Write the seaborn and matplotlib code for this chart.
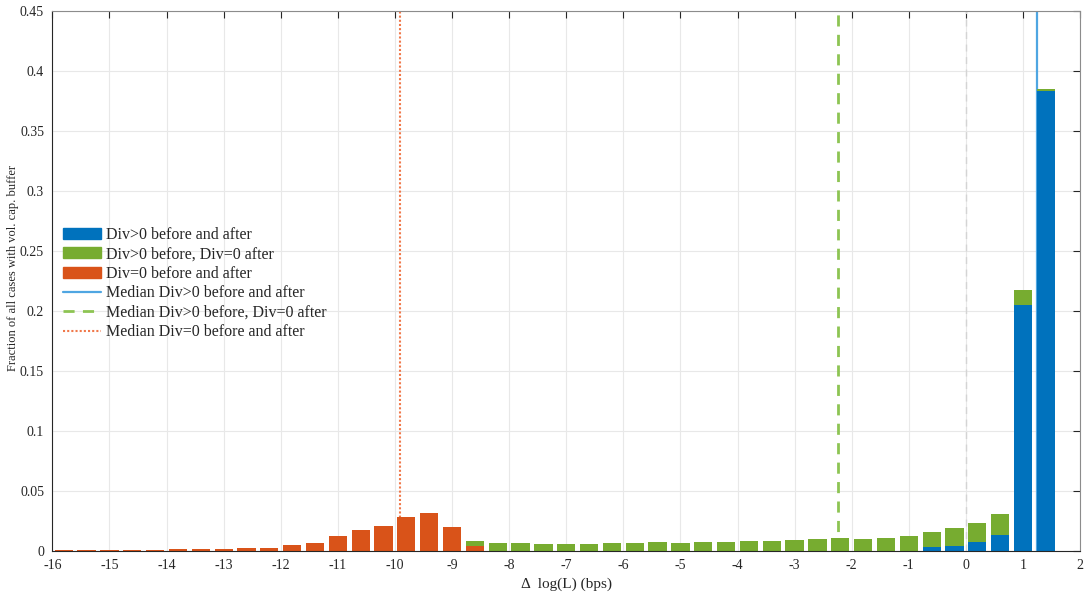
import numpy as np
import seaborn as sns
import matplotlib
matplotlib.use("Agg")
import matplotlib.pyplot as plt
from matplotlib.patches import Patch
from matplotlib.lines import Line2D
from matplotlib.ticker import FormatStrFormatter, MultipleLocator

# =============================
# Data
# =============================
bin_centers = [-15.8, -15.4, -15.0, -14.6, -14.2, -13.8, -13.4, -13.0, -12.6, -12.2,
               -11.8, -11.4, -11.0, -10.6, -10.2, -9.8, -9.4, -9.0, -8.6, -8.2,
               -7.8, -7.4, -7.0, -6.6, -6.2, -5.8, -5.4, -5.0, -4.6, -4.2,
               -3.8, -3.4, -3.0, -2.6, -2.2, -1.8, -1.4, -1.0, -0.6, -0.2,
               0.2, 0.6, 1.0, 1.4]

# Div=0 before and after
div_zero_both = [0.0007, 0.0007, 0.0007, 0.0007, 0.0007, 0.0017, 0.0017, 0.0017, 0.0025, 0.0025,
                 0.0050, 0.0067, 0.0120, 0.0170, 0.0208, 0.0280, 0.0317, 0.0200, 0.0036, 0,
                 0, 0, 0, 0, 0, 0, 0, 0, 0, 0,
                 0, 0, 0, 0, 0, 0, 0, 0, 0, 0,
                 0, 0, 0, 0]

# Div>0 before, Div=0 after (stacked segment)
div_pos_to_zero = [0, 0, 0, 0, 0, 0, 0, 0, 0, 0,
                   0, 0, 0, 0, 0, 0, 0, 0, 0.0044, 0.0061,
                   0.0061, 0.0058, 0.0060, 0.0058, 0.0067, 0.0067, 0.0072, 0.0067, 0.0072, 0.0072,
                   0.0080, 0.0083, 0.0086, 0.0097, 0.0108, 0.0100, 0.0108, 0.0120, 0.0123, 0.0142,
                   0.0156, 0.0180, 0.0125, 0.0020]

# Div>0 before and after
div_pos_both = [0, 0, 0, 0, 0, 0, 0, 0, 0, 0,
                0, 0, 0, 0, 0, 0, 0, 0, 0, 0,
                0, 0, 0, 0, 0, 0, 0, 0, 0, 0,
                0, 0, 0, 0, 0, 0, 0, 0, 0.0033, 0.0044,
                0.0072, 0.0130, 0.2050, 0.3830]

median_pos_both = 1.24
median_pos_to_zero = -2.24
median_zero_both = -9.92

labels = ["Div>0 before and after", "Div>0 before, Div=0 after", "Div=0 before and after",
          "Median Div>0 before and after", "Median Div>0 before, Div=0 after",
          "Median Div=0 before and after"]

# =============================
# Style
# =============================
sns.set_theme(style="white")
plt.rcParams["font.family"] = ["Liberation Serif", "DejaVu Serif"]
plt.rcParams["axes.unicode_minus"] = False

BLUE = "#0072BD"
GREEN = "#77AC30"
ORANGE = "#D95319"
TXT = "#262626"

fig = plt.figure(figsize=(10.91, 6.0), dpi=100)
ax = fig.add_axes([0.048, 0.082, 0.942, 0.9])

totals = np.array(div_pos_both) + np.array(div_zero_both) + np.array(div_pos_to_zero)

# median lines behind bars
ax.axvline(median_pos_both, color="#4FA6E2", lw=1.6, zorder=1)
ax.axvline(median_pos_to_zero, color="#8DC453", lw=2.0, ls=(0, (4, 3)), zorder=1)
ax.axvline(median_zero_both, color="#F0784A", lw=1.5, ls=(0, (1, 1)), zorder=1)
ax.axvline(0, color="#d4d4d4", lw=1.0, ls=(0, (5, 4)), zorder=1)

common = dict(native_scale=True, errorbar=None, saturation=1, linewidth=0, ax=ax, zorder=2)
sns.barplot(x=bin_centers, y=totals, color=GREEN, **common)
sns.barplot(x=bin_centers, y=div_zero_both, color=ORANGE, **common)
sns.barplot(x=bin_centers, y=div_pos_both, color=BLUE, **common)

# =============================
# Axes
# =============================
ax.set_xlim(-16, 2)
ax.set_ylim(0, 0.45)
ax.xaxis.set_major_locator(MultipleLocator(1))
ax.yaxis.set_major_locator(MultipleLocator(0.05))
ax.xaxis.set_major_formatter(FormatStrFormatter("%g"))
ax.yaxis.set_major_formatter(FormatStrFormatter("%g"))
ax.grid(True, color="#e8e8e8", lw=0.8)
ax.set_axisbelow(True)
ax.tick_params(direction="in", top=True, right=True, length=5, width=0.8,
               colors=TXT, labelsize=10, pad=6)
for side, sp in ax.spines.items():
    sp.set_color(TXT if side in ("left", "bottom") else "#8c8c8c")
    sp.set_linewidth(0.8)

ax.set_xlabel("\u0394  log(L) (bps)", fontsize=11, color=TXT, labelpad=4)
ax.set_ylabel("Fraction of all cases with vol. cap. buffer", fontsize=9, color=TXT)
ax.yaxis.set_label_coords(-0.032, 0.524)

handles = [
    Patch(facecolor=BLUE, edgecolor=BLUE),
    Patch(facecolor=GREEN, edgecolor=GREEN),
    Patch(facecolor=ORANGE, edgecolor=ORANGE),
    Line2D([], [], color="#4FA6E2", lw=1.6),
    Line2D([], [], color="#8DC453", lw=2.0, ls=(0, (4, 3))),
    Line2D([], [], color="#F0784A", lw=1.5, ls=(0, (1, 1))),
]
ax.legend(handles, labels, loc="upper left", bbox_to_anchor=(0.01, 0.600),
          frameon=False, fontsize=11.5, handlelength=2.4, handletextpad=0.3,
          labelspacing=0.22, borderpad=0, borderaxespad=0)

fig.savefig("out.png", dpi=100)
